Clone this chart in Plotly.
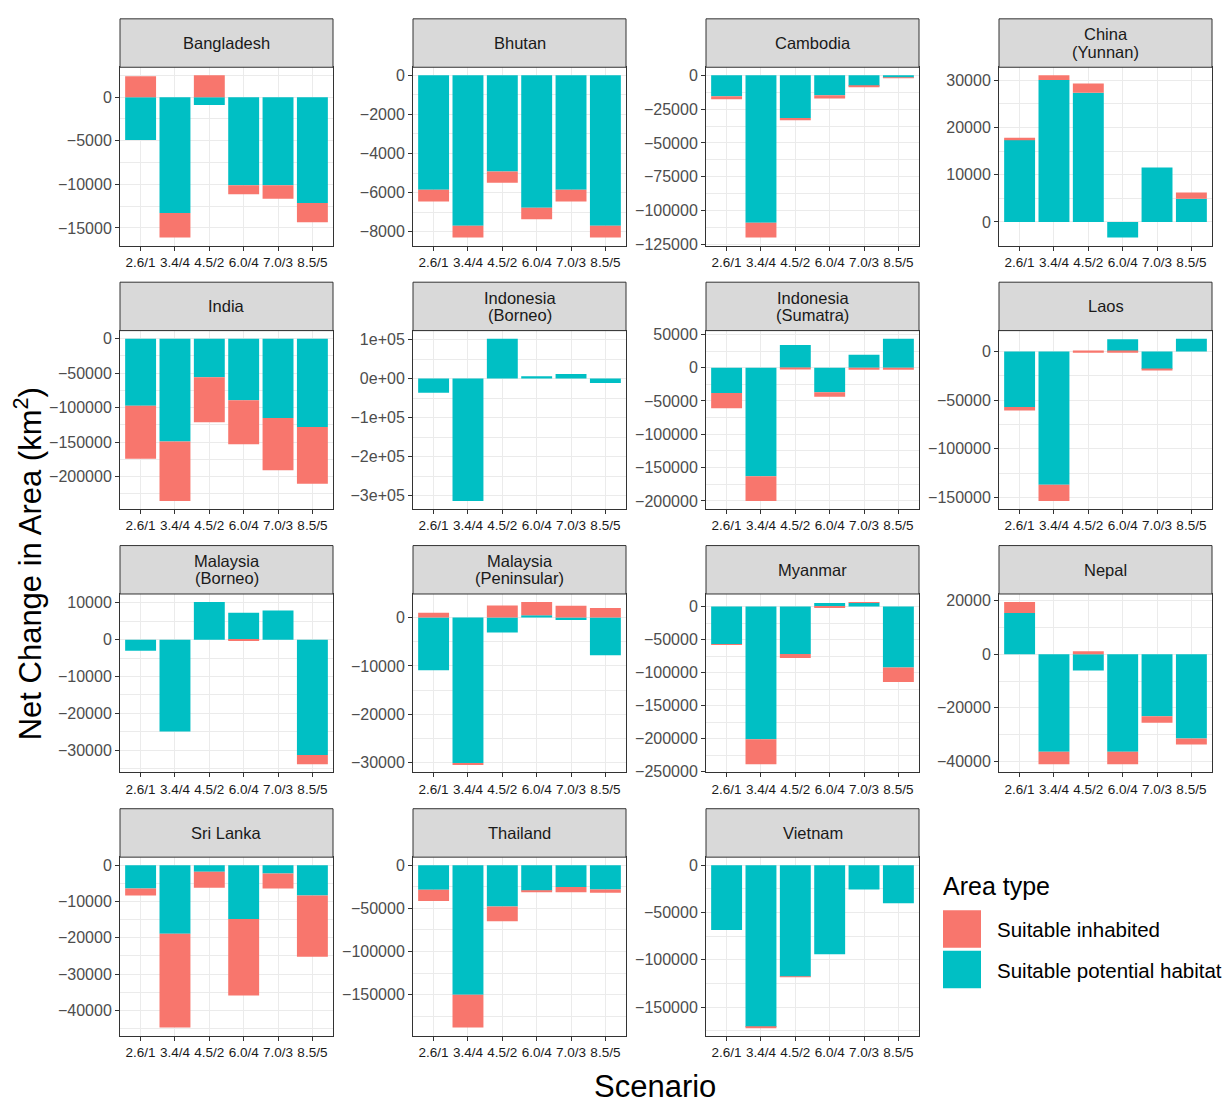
import plotly.graph_objects as go

# ---------------- data ----------------
COUNTRIES = ["Bangladesh", "Bhutan", "Cambodia", "China<br>(Yunnan)",
             "India", "Indonesia<br>(Borneo)", "Indonesia<br>(Sumatra)", "Laos",
             "Malaysia<br>(Borneo)", "Malaysia<br>(Peninsular)", "Myanmar", "Nepal",
             "Sri Lanka", "Thailand", "Vietnam"]
SCENARIOS = ["2.6/1", "3.4/4", "4.5/2", "6.0/4", "7.0/3", "8.5/5"]

# Suitable potential habitat (cyan)
POTENTIAL = [
    [-4900, -13300, -900, -10100, -10100, -12150],
    [-5860, -7700, -4920, -6770, -5860, -7700],
    [-15500, -109000, -31600, -14800, -8000, -1700],
    [17400, 30000, 27300, -3300, 11500, 4900],
    [-97000, -149000, -56000, -89000, -115000, -128000],
    [-36000, -313000, 102000, 6000, 12000, -11000],
    [-38000, -163000, 34000, -37000, 19500, 43500],
    [-57000, -137000, 0, 12500, -18000, 13000],
    [-3000, -24900, 10200, 7300, 7900, -31300],
    [-10900, -30100, -3100, 500, -500, -7800],
    [-57000, -201000, -72000, 5500, 6000, -92500],
    [15300, -36300, -6100, -36300, -23100, -31400],
    [-6400, -18900, -1800, -14800, -2300, -8300],
    [-28300, -150000, -47800, -29500, -25300, -28000],
    [-68500, -171000, -118000, -94000, -25500, -40200],
]
# Suitable inhabited (red)
INHABITED = [
    [2400, -2800, 2500, -1050, -1550, -2200],
    [-590, -600, -580, -600, -590, -600],
    [-2200, -11000, -1700, -2400, -200, -100],
    [400, 1000, 2000, 0, 0, 1300],
    [-77000, -86000, -65000, -64000, -75500, -82000],
    [0, 0, 0, 0, 0, 0],
    [-23000, -37000, -2500, -6500, -3000, -3000],
    [-3800, -16500, -1500, -1500, -1700, 0],
    [0, 0, 0, -300, 0, -2500],
    [1000, -250, 2500, 2700, 2450, 2000],
    [-1000, -38000, -6000, -2000, 800, -22000],
    [4100, -4700, 1100, -4700, -2400, -2200],
    [-1900, -25800, -4400, -21100, -4100, -16900],
    [-13000, -38000, -17200, -1200, -6100, -3800],
    [0, -500, -300, 0, 0, 0],
]
Y_TICKS = [
    [0, -5000, -10000, -15000],
    [0, -2000, -4000, -6000, -8000],
    [0, -25000, -50000, -75000, -100000, -125000],
    [0, 10000, 20000, 30000],
    [0, -50000, -100000, -150000, -200000],
    [100000, 0, -100000, -200000, -300000],
    [50000, 0, -50000, -100000, -150000, -200000],
    [0, -50000, -100000, -150000],
    [10000, 0, -10000, -20000, -30000],
    [0, -10000, -20000, -30000],
    [0, -50000, -100000, -150000, -200000, -250000],
    [20000, 0, -20000, -40000],
    [0, -10000, -20000, -30000, -40000],
    [0, -50000, -100000, -150000],
    [0, -50000, -100000, -150000],
]
SCI_PANELS = ["Indonesia<br>(Borneo)"]
LEGEND_TITLE = "Area type"
LEGEND_LABELS = ["Suitable inhabited", "Suitable potential habitat"]

# ---------------- style / geometry ----------------
W, H = 1228, 1105
RED = "#F8766D"
CYAN = "#00BFC4"
FONT = "Liberation Sans, Arial, sans-serif"
BORDER = "#333333"
GRID = "#ebebeb"
COL_LEFT = [120, 413, 706, 999]
PANEL_W = 213
ROW_TOP = [14, 280.5, 547, 813.3]
STRIP_H = 49
PANEL_H = 180.5


def fmt(v, sci):
    if sci:
        s = f"{v:.0e}"
    else:
        s = str(int(v))
    if s.startswith("-"):
        s = "\u2212" + s[1:]
    return s


def px(x):
    return x / W


def py(y):
    return 1 - y / H


fig = go.Figure()
layout = {}
shapes = []
annotations = []

for i, name in enumerate(COUNTRIES):
    r, c = divmod(i, 4)
    x0 = COL_LEFT[c]
    x1 = x0 + PANEL_W
    st = ROW_TOP[r]
    pt = st + STRIP_H
    pb = pt + PANEL_H
    xa = "x" if i == 0 else f"x{i+1}"
    ya = "y" if i == 0 else f"y{i+1}"
    xk = "xaxis" if i == 0 else f"xaxis{i+1}"
    yk = "yaxis" if i == 0 else f"yaxis{i+1}"

    fig.add_trace(go.Bar(x=SCENARIOS, y=POTENTIAL[i], marker_color=CYAN,
                         marker_line_width=0, xaxis=xa, yaxis=ya,
                         name=LEGEND_LABELS[1], showlegend=False))
    fig.add_trace(go.Bar(x=SCENARIOS, y=INHABITED[i], marker_color=RED,
                         marker_line_width=0, xaxis=xa, yaxis=ya,
                         name=LEGEND_LABELS[0], showlegend=False))

    pos = [max(a, 0) + max(b, 0) for a, b in zip(POTENTIAL[i], INHABITED[i])]
    neg = [min(a, 0) + min(b, 0) for a, b in zip(POTENTIAL[i], INHABITED[i])]
    lo = min(0, min(neg))
    hi = max(0, max(pos))
    pad = 0.05 * (hi - lo)
    ticks = Y_TICKS[i]
    step = abs(ticks[1] - ticks[0])
    sci = name in SCI_PANELS

    layout[xk] = dict(
        domain=[px(x0), px(x1)], anchor=ya, type="category",
        categoryorder="array", categoryarray=SCENARIOS, range=[-0.6, 5.6],
        showline=True, mirror=True, linecolor=BORDER, linewidth=1,
        ticks="outside", ticklen=4, tickcolor=BORDER, tickwidth=1,
        showgrid=True, gridcolor=GRID, gridwidth=1, zeroline=False,
        tickangle=0,
        tickfont=dict(size=13.5, color="#1a1a1a", family=FONT),
        fixedrange=True,
    )
    layout[yk] = dict(
        domain=[py(pb), py(pt)], anchor=xa, range=[lo - pad, hi + pad],
        tickmode="array", tickvals=ticks, ticktext=[fmt(v, sci) for v in ticks],
        showline=True, mirror=True, linecolor=BORDER, linewidth=1,
        ticks="outside", ticklen=4, tickcolor=BORDER, tickwidth=1,
        showgrid=True, gridcolor=GRID, gridwidth=1, zeroline=False,
        minor=dict(tickmode="linear", tick0=0, dtick=step / 2, showgrid=True,
                   gridcolor=GRID, gridwidth=0.6, ticks=""),
        tickfont=dict(size=16, color="#4d4d4d", family=FONT),
        fixedrange=True,
    )

    # strip
    shapes.append(dict(type="rect", xref="paper", yref="paper",
                       x0=px(x0), x1=px(x1), y0=py(pt), y1=py(st),
                       fillcolor="#d9d9d9", line=dict(color=BORDER, width=1),
                       layer="above"))
    lines = name.split("<br>")
    cy = (st + pt) / 2
    n = len(lines)
    for k, ln in enumerate(lines):
        yy = cy + (k - (n - 1) / 2) * 17.6
        annotations.append(dict(text=ln, xref="paper", yref="paper",
                                x=px((x0 + x1) / 2), y=py(yy),
                                xanchor="center", yanchor="middle",
                                showarrow=False,
                                font=dict(size=16.5, color="#1a1a1a", family=FONT)))

# axis titles
annotations.append(dict(text="Net Change in Area (km<sup>2</sup>)", xref="paper", yref="paper",
                        x=px(28), y=py(566), textangle=-90, showarrow=False,
                        xanchor="center", yanchor="middle",
                        font=dict(size=31, color="black", family=FONT)))
annotations.append(dict(text="Scenario", xref="paper", yref="paper",
                        x=px(655), y=py(1094), showarrow=False,
                        xanchor="center", yanchor="middle",
                        font=dict(size=31, color="black", family=FONT)))

# legend (drawn manually to match key size)
annotations.append(dict(text=LEGEND_TITLE, xref="paper", yref="paper",
                        x=px(941), y=py(891), showarrow=False,
                        xanchor="left", yanchor="middle",
                        font=dict(size=25, color="black", family=FONT)))
for k, (lab, col) in enumerate(zip(LEGEND_LABELS, [RED, CYAN])):
    ky0 = 916 + k * 41
    shapes.append(dict(type="rect", xref="paper", yref="paper",
                       x0=px(943), x1=px(981), y0=py(ky0 + 38), y1=py(ky0),
                       fillcolor=col, line=dict(width=0)))
    annotations.append(dict(text=lab, xref="paper", yref="paper",
                            x=px(995), y=py(ky0 + 20), showarrow=False,
                            xanchor="left", yanchor="middle",
                            font=dict(size=20.5, color="black", family=FONT)))

fig.update_layout(
    width=W, height=H, autosize=False,
    margin=dict(l=0, r=0, t=0, b=0),
    paper_bgcolor="white", plot_bgcolor="white",
    barmode="relative", bargap=0.1,
    showlegend=False,
    font=dict(family=FONT),
    shapes=shapes, annotations=annotations,
    **layout,
)

fig.write_html("out.html")
